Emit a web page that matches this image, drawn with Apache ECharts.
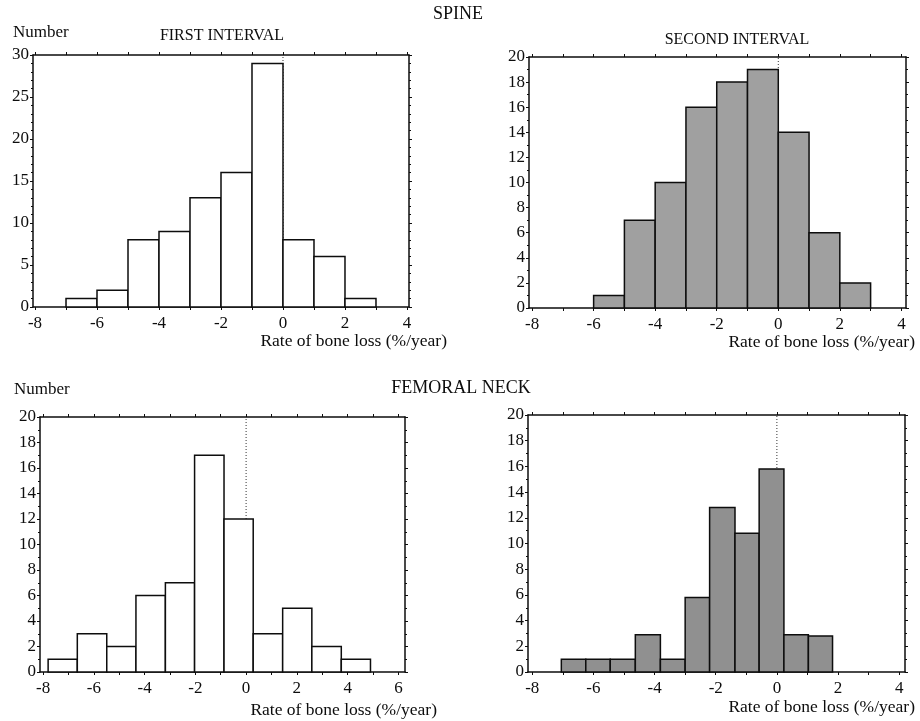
<!DOCTYPE html>
<html>
<head>
<meta charset="utf-8">
<script src="https://cdn.jsdelivr.net/npm/echarts@6/dist/echarts.min.js"></script>
<style>
  html, body { margin: 0; padding: 0; background: #fff; }
  #chart { width: 920px; height: 721px; }
</style>
</head>
<body>
<div id="chart"></div>
<script>
// bin edges (n + 1) and counts (n)
const spineFirstEdges = [-7, -6, -5, -4, -3, -2, -1, 0, 1, 2, 3];
const spineFirstCounts = [1, 2, 8, 9, 13, 16, 29, 8, 6, 1];

const spineSecondEdges = [-6, -5, -4, -3, -2, -1, 0, 1, 2, 3];
const spineSecondCounts = [1, 7, 10, 16, 18, 19, 14, 6, 2];

const neckFirstEdges = [-7.8, -6.65, -5.49, -4.34, -3.18, -2.03, -0.87, 0.28, 1.44, 2.59, 3.75, 4.9];
const neckFirstCounts = [1, 3, 2, 6, 7, 17, 12, 3, 5, 2, 1];

const neckSecondEdges = [-7.05, -6.25, -5.45, -4.63, -3.81, -3.0, -2.2, -1.37, -0.58, 0.23, 1.03, 1.82];
const neckSecondCounts = [1, 1, 1, 2.9, 1, 5.8, 12.8, 10.8, 15.8, 2.9, 2.8];

const ticksTo4 = [-8, -7, -6, -5, -4, -3, -2, -1, 0, 1, 2, 3, 4];
const labelsTo4 = [-8, -6, -4, -2, 0, 2, 4];
const ticksTo6 = [-8, -7, -6, -5, -4, -3, -2, -1, 0, 1, 2, 3, 4, 5, 6];
const labelsTo6 = [-8, -6, -4, -2, 0, 2, 4, 6];

const FONT = '"Liberation Serif", "Times New Roman", serif';
const INK = '#0d0d0d';

const panels = [
  { edges: spineFirstEdges, counts: spineFirstCounts, fill: '#ffffff',
    grid: { left: 33, top: 55, width: 376, height: 252 },
    xMin: -8.065, xMax: 4.065, ticks: ticksTo4, labels: labelsTo4, yMax: 30, yStep: 5, minor: 5 },
  { edges: spineSecondEdges, counts: spineSecondCounts, fill: '#a0a0a0',
    grid: { left: 529, top: 57, width: 377, height: 251 },
    xMin: -8.1, xMax: 4.15, ticks: ticksTo4, labels: labelsTo4, yMax: 20, yStep: 2, minor: 2 },
  { edges: neckFirstEdges, counts: neckFirstCounts, fill: '#ffffff',
    grid: { left: 40, top: 417, width: 365, height: 255 },
    xMin: -8.12, xMax: 6.26, ticks: ticksTo6, labels: labelsTo6, yMax: 20, yStep: 2, minor: 2 },
  { edges: neckSecondEdges, counts: neckSecondCounts, fill: '#909090',
    grid: { left: 528, top: 415, width: 377, height: 257 },
    xMin: -8.14, xMax: 4.19, ticks: ticksTo4, labels: labelsTo4, yMax: 20, yStep: 2, minor: 2 }
];

const frameLine = { show: true, onZero: false, lineStyle: { color: INK, width: 1.5 } };

function renderBin(params, api) {
  const p0 = api.coord([api.value(0), 0]);
  const p1 = api.coord([api.value(1), api.value(2)]);
  return {
    type: 'rect',
    shape: { x: p0[0], y: p1[1], width: p1[0] - p0[0], height: p0[1] - p1[1] },
    style: { fill: api.visual('color'), stroke: INK, lineWidth: 1.5 }
  };
}

const grids = [], xAxes = [], yAxes = [], series = [];

panels.forEach((p, i) => {
  grids.push(p.grid);
  xAxes.push({
    type: 'value', gridIndex: i, min: p.xMin, max: p.xMax,
    axisLine: frameLine,
    axisTick: { show: true, length: 3, customValues: p.ticks, lineStyle: { color: INK } },
    axisLabel: { customValues: p.labels, margin: 8, color: INK, fontFamily: FONT, fontSize: 17 },
    splitLine: { show: false }
  });
  xAxes.push({
    type: 'value', gridIndex: i, position: 'top', min: p.xMin, max: p.xMax,
    axisLine: frameLine,
    axisTick: { show: true, length: 3, customValues: p.ticks, lineStyle: { color: INK } },
    axisLabel: { show: false },
    splitLine: { show: false }
  });
  yAxes.push({
    type: 'value', gridIndex: i, min: 0, max: p.yMax, interval: p.yStep,
    axisLine: frameLine,
    axisTick: { show: true, length: 3, lineStyle: { color: INK } },
    minorTick: { show: true, splitNumber: p.minor, length: 2, lineStyle: { color: INK } },
    axisLabel: { margin: 4, color: INK, fontFamily: FONT, fontSize: 17 },
    splitLine: { show: false }
  });
  yAxes.push({
    type: 'value', gridIndex: i, position: 'right', min: 0, max: p.yMax, interval: p.yStep,
    axisLine: frameLine,
    axisTick: { show: true, length: 3, lineStyle: { color: INK } },
    minorTick: { show: true, splitNumber: p.minor, length: 2, lineStyle: { color: INK } },
    axisLabel: { show: false },
    splitLine: { show: false }
  });

  // dotted reference line at zero, underneath the bars
  series.push({
    type: 'line', xAxisIndex: 2 * i, yAxisIndex: 2 * i, z: 1,
    data: [[0, 0], [0, p.yMax]], symbol: 'none', silent: true,
    lineStyle: { color: '#333', width: 1, type: [1, 2] }
  });

  const bins = p.counts.map((c, k) => [p.edges[k], p.edges[k + 1], c]);
  series.push({
    type: 'custom', xAxisIndex: 2 * i, yAxisIndex: 2 * i, z: 3,
    itemStyle: { color: p.fill },
    renderItem: renderBin,
    encode: { x: [0, 1], y: 2 },
    data: bins
  });
});

function txt(x, y, text, align, size) {
  return {
    type: 'text', x: x, y: y,
    style: { text: text, align: align, verticalAlign: 'middle', fill: INK, font: size + 'px ' + FONT }
  };
}

const chart = echarts.init(document.getElementById('chart'), null, { renderer: 'canvas' });
chart.setOption({
  animation: false,
  backgroundColor: '#fff',
  grid: grids,
  xAxis: xAxes,
  yAxis: yAxes,
  series: series,
  graphic: [
    txt(458, 14, 'SPINE', 'center', 18),
    txt(13, 33, 'Number', 'left', 17),
    txt(222, 36, 'FIRST INTERVAL', 'center', 16),
    txt(737, 40, 'SECOND INTERVAL', 'center', 16),
    txt(447, 341, 'Rate of bone loss (%/year)', 'right', 17.5),
    txt(915, 342, 'Rate of bone loss (%/year)', 'right', 17.5),
    txt(461, 388, 'FEMORAL NECK', 'center', 18),
    txt(14, 390, 'Number', 'left', 17),
    txt(437, 710, 'Rate of bone loss (%/year)', 'right', 17.5),
    txt(915, 707, 'Rate of bone loss (%/year)', 'right', 17.5)
  ]
});
</script>
</body>
</html>
